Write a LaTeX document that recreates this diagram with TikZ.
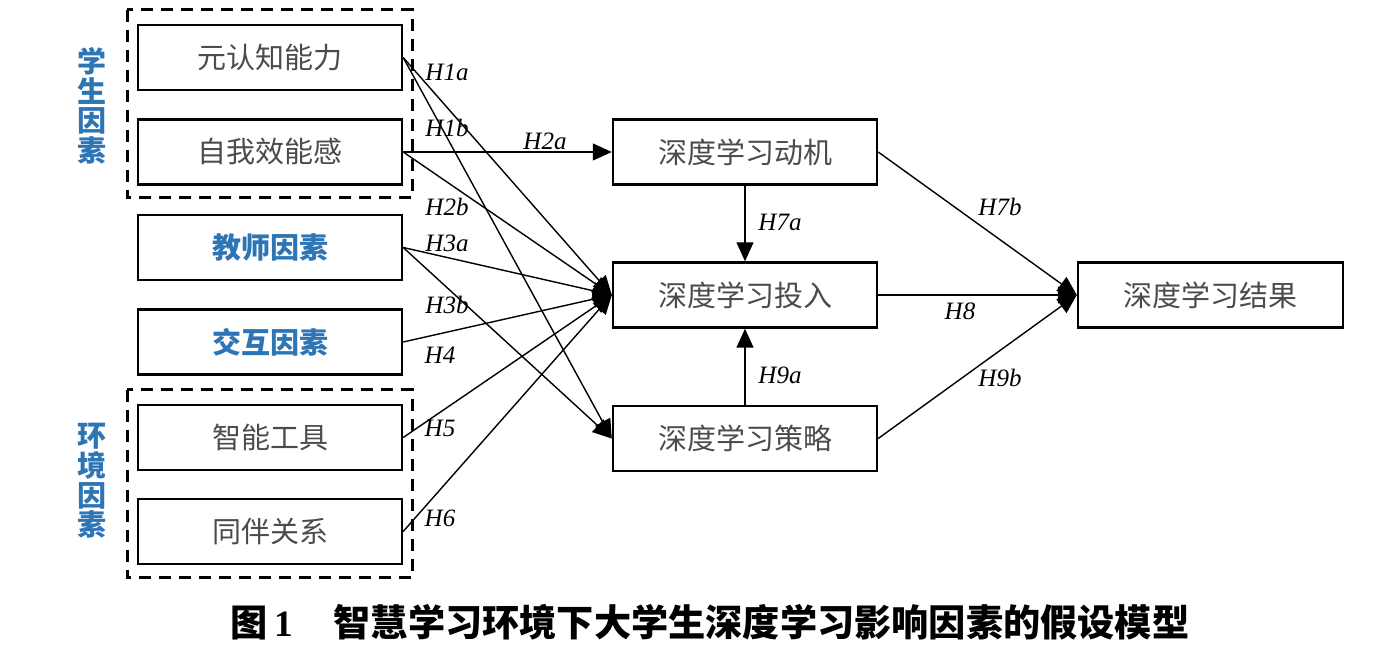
\documentclass[tikz,border=0pt]{standalone}
\usepackage{fontspec}
\setmainfont{Liberation Serif}
\newfontfamily\cjk{Noto Sans CJK SC}
\usetikzlibrary{arrows.meta}
\definecolor{txtgray}{RGB}{75,75,75}
\definecolor{fblue}{RGB}{46,117,182}
\begin{document}
\begin{tikzpicture}[x=0.5pt,y=-0.5pt,
  box/.style={draw=black,line width=1.2pt,minimum width=132pt,minimum height=32.5pt,inner sep=0pt,font=\cjk\fontsize{14.5}{16}\selectfont,text=txtgray},
  bluebox/.style={box,text=fblue,font=\cjk\bfseries\fontsize{14.5}{16}\selectfont},
  grp/.style={draw=black,line width=1.5pt,dash pattern=on 6pt off 4pt},
  side/.style={font=\cjk\bfseries\fontsize{14.5}{14.8}\selectfont,text=fblue,align=center,inner sep=0pt},
  hyp/.style={font=\itshape\fontsize{12.5}{13}\selectfont,inner sep=0pt},
  arr/.style={line width=0.7pt,-{Triangle[length=9.5pt,width=8.5pt]}},
  ]
\useasboundingbox (0,0) rectangle (1376,656);
% groups
\draw[grp] (127,10) rectangle (412,198);
\draw[grp] (127,390) rectangle (412,578);
\node[side] (gs) at (92,106) {学\\生\\因\\素};
\node[side] (ge) at (92,481) {环\\境\\因\\素};
% left boxes
\node[box] (a1) at (270,57.5) {元认知能力};
\node[box] (a2) at (270,152) {自我效能感};
\node[bluebox] (a3) at (270,247.5) {教师因素};
\node[bluebox] (a4) at (270,342) {交互因素};
\node[box] (a5) at (270,437.5) {智能工具};
\node[box] (a6) at (270,531.5) {同伴关系};
% middle
\node[box] (m1) at (745,152) {深度学习动机};
\node[box] (m2) at (745,295) {深度学习投入};
\node[box] (m3) at (745,438.5) {深度学习策略};
\node[box,minimum width=132.5pt] (r) at (1210.5,295) {深度学习结果};
% arrows
\draw[arr] (a1.east) -- (m2.west);
\draw[arr] (a1.east) -- (m3.west);
\draw[arr] (a2.east) -- (m1.west);
\draw[arr] (a2.east) -- (m2.west);
\draw[arr] (a3.east) -- (m2.west);
\draw[arr] (a3.east) -- (m3.west);
\draw[arr] (a4.east) -- (m2.west);
\draw[arr] (a5.east) -- (m2.west);
\draw[arr] (a6.east) -- (m2.west);
\draw[arr] (m1.south) -- (m2.north);
\draw[arr] (m3.north) -- (m2.south);
\draw[arr] (m1.east) -- (r.west);
\draw[arr] (m2.east) -- (r.west);
\draw[arr] (m3.east) -- (r.west);
% labels
\node[hyp] (h1a) at (447,72) {H1a};
\node[hyp] (h1b) at (447,128) {H1b};
\node[hyp] (h2a) at (545,141) {H2a};
\node[hyp] (h2b) at (447,207) {H2b};
\node[hyp] (h3a) at (447,243) {H3a};
\node[hyp] (h3b) at (447,305) {H3b};
\node[hyp] (h4) at (440,355) {H4};
\node[hyp] (h5) at (440,428) {H5};
\node[hyp] (h6) at (440,518) {H6};
\node[hyp] (h7a) at (780,222) {H7a};
\node[hyp] (h9a) at (780,375) {H9a};
\node[hyp] (h7b) at (1000,207) {H7b};
\node[hyp] (h8) at (960,311) {H8};
\node[hyp] (h9b) at (1000,378) {H9b};
% caption
\node[inner sep=0pt,font=\fontsize{18.6}{20}\selectfont] (cap) at (710,622)
  {{\cjk\bfseries 图}\,{\bfseries 1}\hspace{1.1em}{\cjk\bfseries 智慧学习环境下大学生深度学习影响因素的假设模型}};
\end{tikzpicture}
\end{document}
